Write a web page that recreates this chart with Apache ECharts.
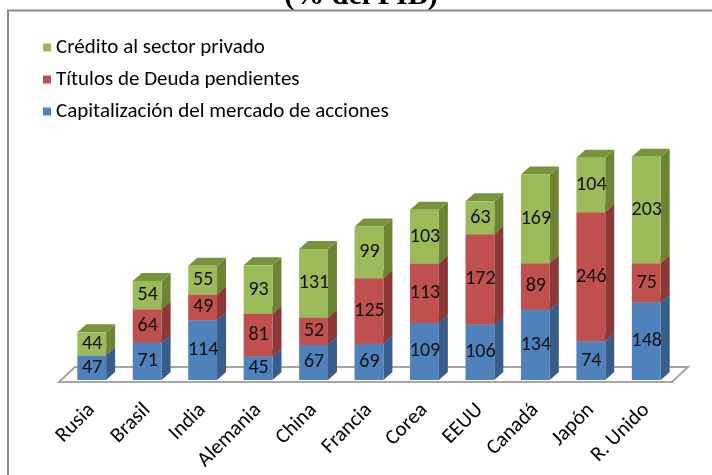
<!DOCTYPE html>
<html>
<head>
<meta charset="utf-8">
<script src="https://cdn.jsdelivr.net/npm/echarts@6/dist/echarts.min.js"></script>
<style>html,body{margin:0;padding:0;background:#fff}#c{width:712px;height:475px}</style>
</head>
<body>
<div id="c"></div>
<script>
const categories = ['Rusia','Brasil','India','Alemania','China','Francia','Corea','EEUU','Canadá','Japón','R. Unido'];
const capitalizacion = [47,71,114,45,67,69,109,106,134,74,148];
const titulos = [null,64,49,81,52,125,113,172,89,246,75];
const credito = [44,54,55,93,131,99,103,63,169,104,203];
const seriesNames = ['Capitalización del mercado de acciones','Títulos de Deuda pendientes','Crédito al sector privado'];

const FONT = 'Carlito, "Liberation Sans", sans-serif';
const faces = [
  {front:'#4F81BD', side:'#385D8A', top:'#4470A6'},
  {front:'#C0504D', side:'#8C3836', top:'#A44542'},
  {front:'#9BBB59', side:'#6B8535', top:'#77933C'}
];
const DX = 9, DY = 8, BARW = 0.52;

const stacks = [capitalizacion, titulos, credito];
function buildData(k){
  return categories.map((c,i)=>{
    let base = 0;
    for(let j=0;j<k;j++) base += (stacks[j][i]||0);
    const v = stacks[k][i]||0;
    return [i, base, base+v, v];
  });
}

function makeRender(k){
  return function(params, api){
    const cat = api.value(0), base = api.value(1), top = api.value(2), v = api.value(3);
    if(!(v>0)) return;
    const p0 = api.coord([cat, base]), p1 = api.coord([cat, top]);
    const bw = api.size([1,0])[0]*BARW;
    const x0 = p0[0]-bw/2, x1 = p0[0]+bw/2, yb = p0[1], yt = p1[1];
    const f = faces[k];
    return {type:'group', children:[
      {type:'polygon', shape:{points:[[x1,yb],[x1+DX,yb-DY],[x1+DX,yt-DY],[x1,yt]]}, style:{fill:f.side}},
      {type:'polygon', shape:{points:[[x0,yt],[x0+DX,yt-DY],[x1+DX,yt-DY],[x1,yt]]}, style:{fill:f.top}},
      {type:'rect', shape:{x:x0, y:yt, width:bw, height:yb-yt}, style:{fill:f.front}},
      {type:'text', x:p0[0]+0.5, y:(yb+yt)/2, style:{text:String(v), fill:'#111', font:'20px ' + FONT, align:'center', verticalAlign:'middle'}}
    ]};
  };
}

const chart = echarts.init(document.getElementById('c'), null, {renderer:'canvas'});
const series = [{
  name:'floor', type:'custom', z:1, silent:true, data:[[0,0]],
  renderItem:function(params, api){
    const cs = params.coordSys;
    const L = cs.x, R = cs.x+cs.width, B = cs.y+cs.height;
    return {type:'polygon', shape:{points:[[L-5,B+2],[L+11,B-13],[R+14,B-13],[R-2,B+2]]}, style:{fill:'#fff', stroke:'#A6A6A6', lineWidth:2}};
  }
}];
[0,1,2].forEach(k=>{
  series.push({name:seriesNames[k], type:'custom', z:2+k, data:buildData(k), encode:{x:0,y:[1,2]}, itemStyle:{color:faces[k].front}, renderItem:makeRender(k)});
});

chart.setOption({
  animation:false,
  grid:{left:64, right:38, top:118, bottom:95},
  legend:{orient:'vertical', left:38, top:32, itemWidth:8, itemHeight:8, itemGap:11, icon:'rect',
    data:[seriesNames[2], seriesNames[1], seriesNames[0]],
    textStyle:{fontFamily:FONT, fontSize:21, color:'#000', padding:[0,0,0,0]}},
  xAxis:{type:'category', data:categories, axisLine:{show:false}, axisTick:{show:false},
    axisLabel:{rotate:45, margin:27, interval:0, fontFamily:FONT, fontSize:21, color:'#000'}},
  yAxis:{type:'value', min:0, max:500, show:false, splitLine:{show:false}},
  graphic:[
    {type:'rect', z:-1, shape:{x:8, y:10.5, width:720, height:480}, style:{fill:'none', stroke:'#8A8A8A', lineWidth:2}},
    {type:'text', x:361, y:-4, style:{text:'(% del PIB)', font:'bold 30px "Liberation Serif", serif', fill:'#000', align:'center', verticalAlign:'middle'}}
  ],
  series:series
});
</script>
</body>
</html>
